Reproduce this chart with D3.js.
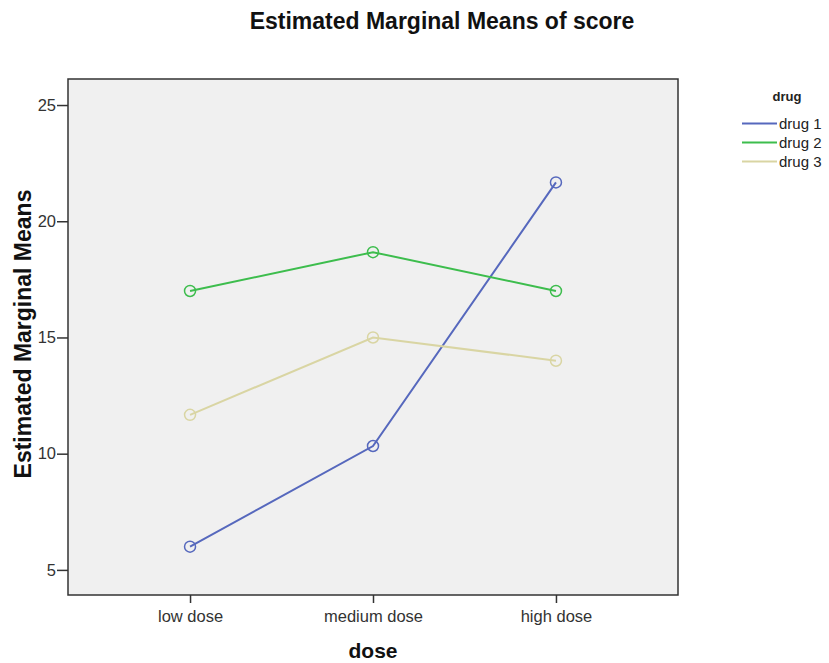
<!DOCTYPE html>
<html><head><meta charset="utf-8">
<script src="https://cdn.jsdelivr.net/npm/d3@7"></script>
<style>body{margin:0;background:#fff;} svg{display:block;font-family:Arial,"Liberation Sans",sans-serif;}</style>
</head><body>
<script>
const doses = ["low dose", "medium dose", "high dose"];
const drugs = ["drug 1", "drug 2", "drug 3"];
const drug1 = [6.0, 10.33, 21.67];
const drug2 = [17.0, 18.67, 17.0];
const drug3 = [11.67, 15.0, 14.0];
const yTicks = [5, 10, 15, 20, 25];
const colors = ["#5668bd", "#3dbd4d", "#d9d5a3"];
const series = [drug1, drug2, drug3];

const W = 829, H = 663;
const m = {left: 68, right: 678, top: 79, bottom: 595};
const svg = d3.select("body").append("svg").attr("width", W).attr("height", H);

const x = d3.scalePoint().domain(doses).range([m.left, m.right]).padding(0.667);
const y = d3.scaleLinear().domain([3.92, 26.12]).range([m.bottom, m.top]);

svg.append("rect").attr("x", m.left).attr("y", m.top)
  .attr("width", m.right - m.left).attr("height", m.bottom - m.top)
  .attr("fill", "#f0f0f0").attr("stroke", "#333").attr("stroke-width", 1.5);

const ya = svg.append("g").attr("transform", `translate(${m.left},0)`)
  .call(d3.axisLeft(y).tickValues(yTicks).tickSize(11).tickPadding(1));
ya.select(".domain").remove();
ya.selectAll("line").attr("stroke", "#333").attr("stroke-width", 1.5);
ya.selectAll("text").attr("font-size", 16.5).attr("fill", "#333").attr("font-family", "Arial");

const xa = svg.append("g").attr("transform", `translate(0,${m.bottom})`)
  .call(d3.axisBottom(x).tickSize(8).tickPadding(7));
xa.select(".domain").remove();
xa.selectAll("line").attr("stroke", "#333").attr("stroke-width", 1.5);
xa.selectAll("text").attr("font-size", 16.5).attr("fill", "#333").attr("font-family", "Arial");

const line = d3.line().x((d, i) => x(doses[i])).y(d => y(d));
series.forEach((s, k) => {
  svg.append("path").datum(s).attr("d", line).attr("fill", "none")
    .attr("stroke", colors[k]).attr("stroke-width", 2);
  svg.selectAll(null).data(s).enter().append("circle")
    .attr("cx", (d, i) => x(doses[i])).attr("cy", d => y(d)).attr("r", 5.5)
    .attr("fill", "none").attr("stroke", colors[k]).attr("stroke-width", 1.5);
});

svg.append("text").attr("x", 442).attr("y", 29).attr("text-anchor", "middle")
  .attr("font-size", 23).attr("font-weight", "bold").attr("fill", "#111")
  .text("Estimated Marginal Means of score");
svg.append("text").attr("transform", "translate(31,334) rotate(-90)").attr("text-anchor", "middle")
  .attr("font-size", 23).attr("font-weight", "bold").attr("fill", "#111")
  .text("Estimated Marginal Means");
svg.append("text").attr("x", 373).attr("y", 658).attr("text-anchor", "middle")
  .attr("font-size", 21).attr("font-weight", "bold").attr("fill", "#111")
  .text("dose");

const lg = svg.append("g");
lg.append("text").attr("x", 787).attr("y", 101).attr("text-anchor", "middle")
  .attr("font-size", 13).attr("font-weight", "bold").attr("fill", "#222").text("drug");
drugs.forEach((d, k) => {
  const yy = 123.5 + k * 19;
  lg.append("line").attr("x1", 742).attr("x2", 777).attr("y1", yy).attr("y2", yy)
    .attr("stroke", colors[k]).attr("stroke-width", 2);
  lg.append("text").attr("x", 779).attr("y", yy + 5.5).attr("font-size", 15)
    .attr("fill", "#222").text(d);
});
</script>
</body></html>
